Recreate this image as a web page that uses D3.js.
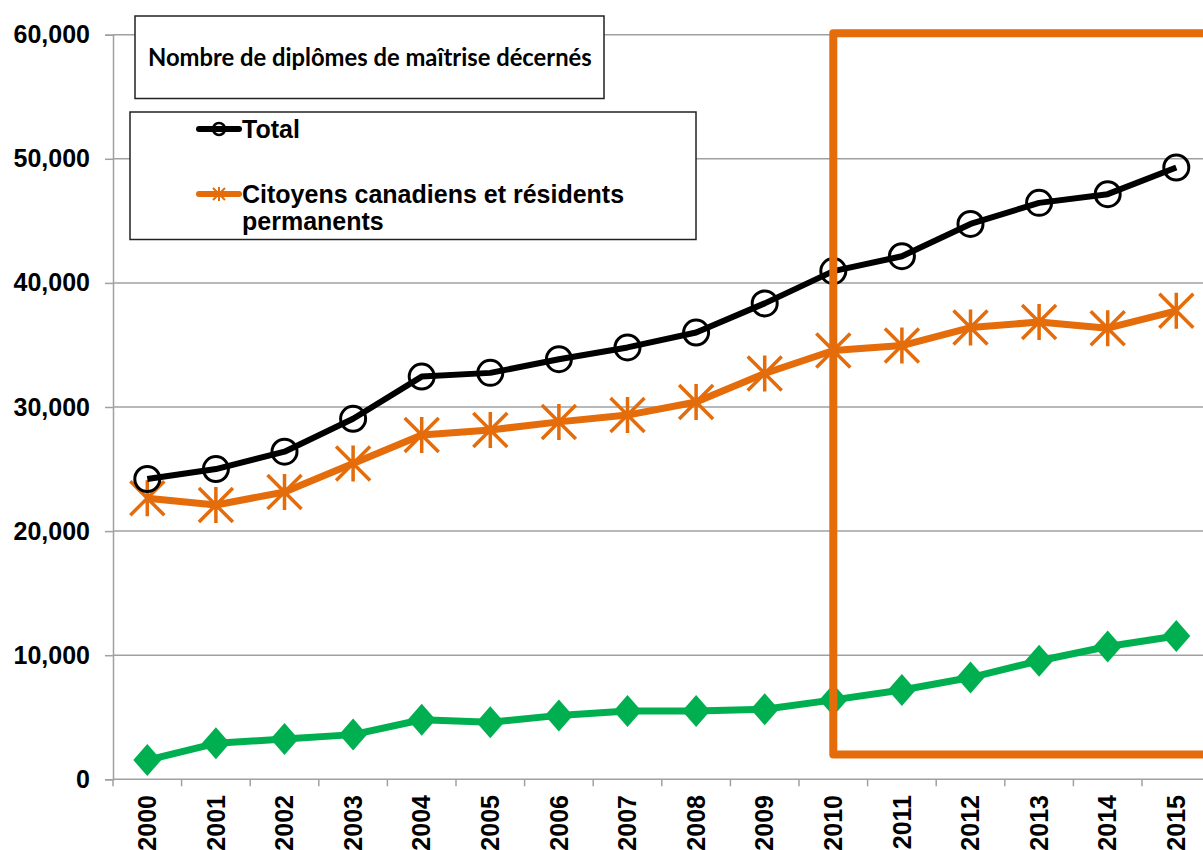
<!DOCTYPE html>
<html><head><meta charset="utf-8">
<script src="https://cdn.jsdelivr.net/npm/d3@7"></script>
<style>
html,body{margin:0;padding:0;background:#fff;}
svg{display:block;}
</style></head>
<body>
<script>
const years = ["2000","2001","2002","2003","2004","2005","2006","2007","2008","2009","2010","2011","2012","2013","2014","2015"];
const total = [24200,25000,26400,29050,32450,32750,33850,34800,36000,38350,40950,42150,44750,46450,47150,49300];
const citizens = [22650,22100,23150,25450,27750,28150,28800,29350,30400,32700,34550,34950,36400,36850,36350,37750];
const international = [1550,2900,3250,3600,4800,4600,5150,5500,5500,5650,6400,7200,8200,9550,10700,11550];
const yTicks = [0,10000,20000,30000,40000,50000,60000];
const titleText = "Nombre de diplômes de maîtrise décernés";
const legendTotal = "Total";
const legendCitizens = ["Citoyens canadiens et résidents","permanents"];
const highlightFrom = "2010";
const highlightBottom = 2000;

const W = 1203, H = 850;
const svg = d3.select("body").append("svg").attr("width", W).attr("height", H);

const x = d3.scaleBand().domain(years).range([113, 113 + 16 * 68.6]).padding(0);
const y = d3.scaleLinear().domain([0, 60000]).range([779.3, 34.7]);
const cx = d => x(d) + x.bandwidth() / 2;

const grid = "#a0a0a0";
const AR = "'Liberation Sans', Arial, sans-serif";

// gridlines
svg.append("g").selectAll("line").data(yTicks.filter(v => v > 0)).join("line")
  .attr("x1", 113).attr("x2", x.range()[1])
  .attr("y1", d => y(d)).attr("y2", d => y(d))
  .attr("stroke", grid).attr("stroke-width", 1.5);

// y axis
const yAxis = svg.append("g").attr("transform", "translate(113,0)")
  .call(d3.axisLeft(y).tickValues(yTicks).tickSize(8).tickPadding(15).tickFormat(d3.format(",")));
yAxis.select(".domain").attr("stroke", grid).attr("stroke-width", 1.5);
yAxis.selectAll(".tick line").attr("stroke", grid).attr("stroke-width", 1.5);
yAxis.selectAll("text").attr("font-family", AR).attr("font-weight", "bold")
  .attr("font-size", 25).attr("fill", "#000");

// x axis line & ticks at band boundaries
svg.append("line").attr("x1", 113).attr("x2", x.range()[1])
  .attr("y1", y(0)).attr("y2", y(0)).attr("stroke", grid).attr("stroke-width", 1.5);
svg.append("g").selectAll("line").data(years.concat(["end"])).join("line")
  .attr("x1", (d, i) => 113 + i * x.step()).attr("x2", (d, i) => 113 + i * x.step())
  .attr("y1", y(0)).attr("y2", y(0) + 7).attr("stroke", grid).attr("stroke-width", 1.5);
svg.append("g").selectAll("text").data(years).join("text")
  .attr("transform", d => `translate(${cx(d)},795) rotate(-90)`)
  .attr("text-anchor", "end").attr("dy", "0.35em")
  .attr("font-family", AR).attr("font-weight", "bold").attr("font-size", 25)
  .text(d => d);

const line = d3.line().x(d => cx(d.k)).y(d => y(d.v));
const mk = arr => years.map((k, i) => ({k, v: arr[i]}));

const ORANGE = "#e46c0a", GREEN = "#00b050";

// green series
svg.append("path").datum(mk(international)).attr("d", line)
  .attr("fill", "none").attr("stroke", GREEN).attr("stroke-width", 7).attr("stroke-linejoin", "round");
svg.append("g").selectAll("path").data(mk(international)).join("path")
  .attr("transform", d => `translate(${cx(d.k)},${y(d.v)})`)
  .attr("d", "M0,-16L14,0L0,16L-14,0Z").attr("fill", GREEN);

// orange series
svg.append("path").datum(mk(citizens)).attr("d", line)
  .attr("fill", "none").attr("stroke", ORANGE).attr("stroke-width", 7).attr("stroke-linejoin", "round");
const star = s => `M${-s},${-s}L${s},${s}M${-s},${s}L${s},${-s}M0,${-s - 1}L0,${s + 1}`;
svg.append("g").selectAll("path").data(mk(citizens)).join("path")
  .attr("transform", d => `translate(${cx(d.k)},${y(d.v)})`)
  .attr("d", star(17)).attr("fill", "none").attr("stroke", ORANGE).attr("stroke-width", 3.5);

// black series
svg.append("path").datum(mk(total)).attr("d", line)
  .attr("fill", "none").attr("stroke", "#000").attr("stroke-width", 6).attr("stroke-linejoin", "round");
svg.append("g").selectAll("circle").data(mk(total)).join("circle")
  .attr("cx", d => cx(d.k)).attr("cy", d => y(d.v)).attr("r", 12.5)
  .attr("fill", "none").attr("stroke", "#000").attr("stroke-width", 3);

// highlight rectangle
const hx = cx(highlightFrom);
svg.append("path")
  .attr("d", `M${x.range()[1] + 20},${y(60000) - 1.5}L${hx},${y(60000) - 1.5}L${hx},${y(highlightBottom)}L${x.range()[1] + 20},${y(highlightBottom)}`)
  .attr("fill", "none").attr("stroke", ORANGE).attr("stroke-width", 8).attr("stroke-linejoin", "round");

// title box
svg.append("rect").attr("x", 135).attr("y", 16).attr("width", 469).attr("height", 82.5)
  .attr("fill", "#fff").attr("stroke", "#222").attr("stroke-width", 1.5);
const t = svg.append("text").attr("x", 148).attr("y", 66)
  .attr("font-family", "Lato, 'Open Sans', sans-serif").attr("font-weight", "bold")
  .attr("font-size", 22).attr("fill", "#000").text(titleText);
const tw = t.node().getComputedTextLength();
t.attr("font-size", 22 * 444 / tw);

// legend box
svg.append("rect").attr("x", 130).attr("y", 112).attr("width", 566).attr("height", 127.5)
  .attr("fill", "#fff").attr("stroke", "#222").attr("stroke-width", 1.5);
const lg = svg.append("g");
lg.append("line").attr("x1", 199).attr("x2", 239).attr("y1", 129).attr("y2", 129)
  .attr("stroke", "#000").attr("stroke-width", 6).attr("stroke-linecap", "round");
lg.append("circle").attr("cx", 219).attr("cy", 129).attr("r", 6)
  .attr("fill", "none").attr("stroke", "#000").attr("stroke-width", 2.5);
lg.append("text").attr("x", 242).attr("y", 138).attr("font-family", AR).attr("font-weight", "bold")
  .attr("font-size", 25).text(legendTotal);
lg.append("line").attr("x1", 199).attr("x2", 239).attr("y1", 194).attr("y2", 194)
  .attr("stroke", ORANGE).attr("stroke-width", 6).attr("stroke-linecap", "round");
lg.append("path").attr("transform", "translate(219,194)").attr("d", star(6))
  .attr("fill", "none").attr("stroke", ORANGE).attr("stroke-width", 2);
lg.append("text").attr("font-family", AR).attr("font-weight", "bold").attr("font-size", 25)
  .selectAll("tspan").data(legendCitizens).join("tspan")
  .attr("x", 242).attr("y", (d, i) => 203 + i * 27).text(d => d);
</script>
</body></html>
